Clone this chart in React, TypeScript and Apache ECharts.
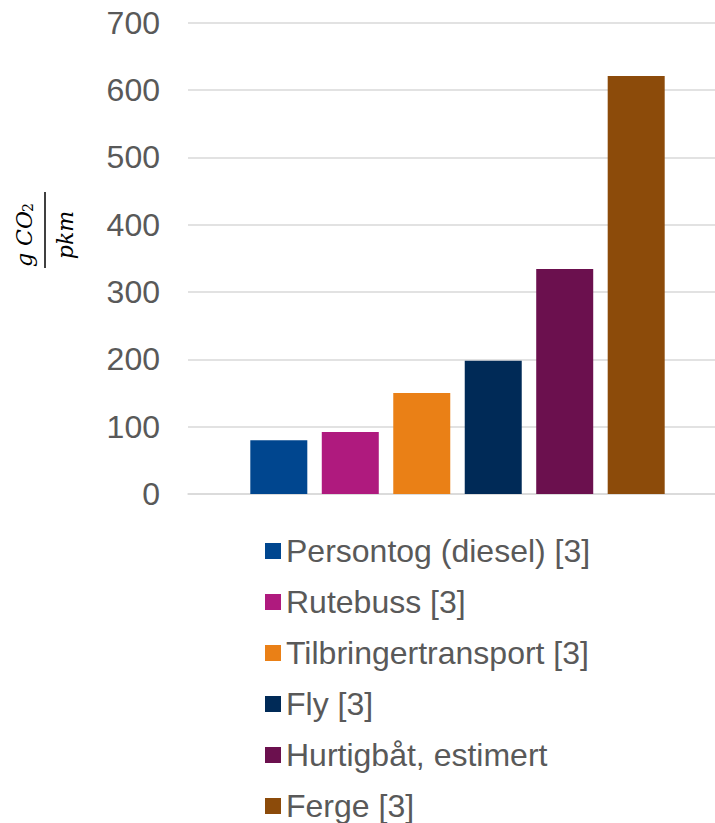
import React, { useEffect, useRef } from "react";
import * as echarts from "echarts";

const seriesNames = [
  "Persontog (diesel) [3]",
  "Rutebuss [3]",
  "Tilbringertransport [3]",
  "Fly [3]",
  "Hurtigbåt, estimert",
  "Ferge [3]",
];
const seriesValues = [80, 92, 150, 198, 334, 621];
const seriesColors = ["#00468F", "#AF1A7E", "#EA8016", "#002A57", "#6B104E", "#8C4B0A"];
const yTicks = [0, 100, 200, 300, 400, 500, 600, 700];

const FONT = "'Liberation Sans', Arial, sans-serif";
const MATH_FONT = "'DejaVu Serif', 'Liberation Serif', serif";

export default function App() {
  const ref = useRef<HTMLDivElement>(null);

  useEffect(() => {
    if (!ref.current) return;
    const chart = echarts.init(ref.current, undefined, { renderer: "svg" });

    const series = seriesNames.map((name, i) => ({
      name,
      type: "bar",
      data: [seriesValues[i]],
      barWidth: 57,
      barGap: "25.4%",
      itemStyle: { color: seriesColors[i] },
    }));

    chart.setOption({
      animation: false,
      backgroundColor: "#ffffff",
      grid: { left: 188, top: 22.7, width: 539, height: 471.3 },
      xAxis: {
        type: "category",
        data: [""],
        axisLine: { show: true, lineStyle: { color: "#d9d9d9", width: 1.5 } },
        axisTick: { show: false },
        axisLabel: { show: false },
      },
      yAxis: {
        type: "value",
        min: yTicks[0],
        max: yTicks[yTicks.length - 1],
        interval: 100,
        axisLine: { show: false },
        axisTick: { show: false },
        axisLabel: { color: "#595959", fontSize: 32, fontFamily: FONT, margin: 28 },
        splitLine: { lineStyle: { color: "#d9d9d9", width: 1.5 } },
      },
      legend: {
        orient: "vertical",
        left: 265,
        top: 534,
        padding: 0,
        itemWidth: 16,
        itemHeight: 16,
        itemGap: 17,
        icon: "rect",
        textStyle: { color: "#595959", fontSize: 32, fontFamily: FONT, lineHeight: 34 },
        data: seriesNames,
      },
      graphic: [
        {
          type: "group",
          x: 45,
          y: 230,
          rotation: Math.PI / 2,
          children: [
            {
              type: "line",
              shape: { x1: -38, y1: 0, x2: 38, y2: 0 },
              style: { stroke: "#000000", lineWidth: 1.5 },
            },
            {
              type: "text",
              x: -37,
              y: -20.5,
              style: {
                text: "g CO",
                font: `italic 22px ${MATH_FONT}`,
                fill: "#000000",
                align: "left",
                verticalAlign: "middle",
              },
            },
            {
              type: "text",
              x: 18,
              y: -17.5,
              style: {
                text: "2",
                font: `14px ${MATH_FONT}`,
                fill: "#000000",
                align: "left",
                verticalAlign: "middle",
              },
            },
            {
              type: "text",
              x: -5,
              y: 20,
              style: {
                text: "pkm",
                font: `italic 22px ${MATH_FONT}`,
                fill: "#000000",
                align: "center",
                verticalAlign: "middle",
              },
            },
          ],
        },
      ],
      series,
    });

    return () => chart.dispose();
  }, []);

  // The canvas runs past the right and bottom edges of the window so the
  // plot area and the legend can extend to the page border.
  return (
    <div
      ref={ref}
      style={{ position: "fixed", left: 0, top: 0, width: 760, height: 900, overflow: "hidden" }}
    />
  );
}
